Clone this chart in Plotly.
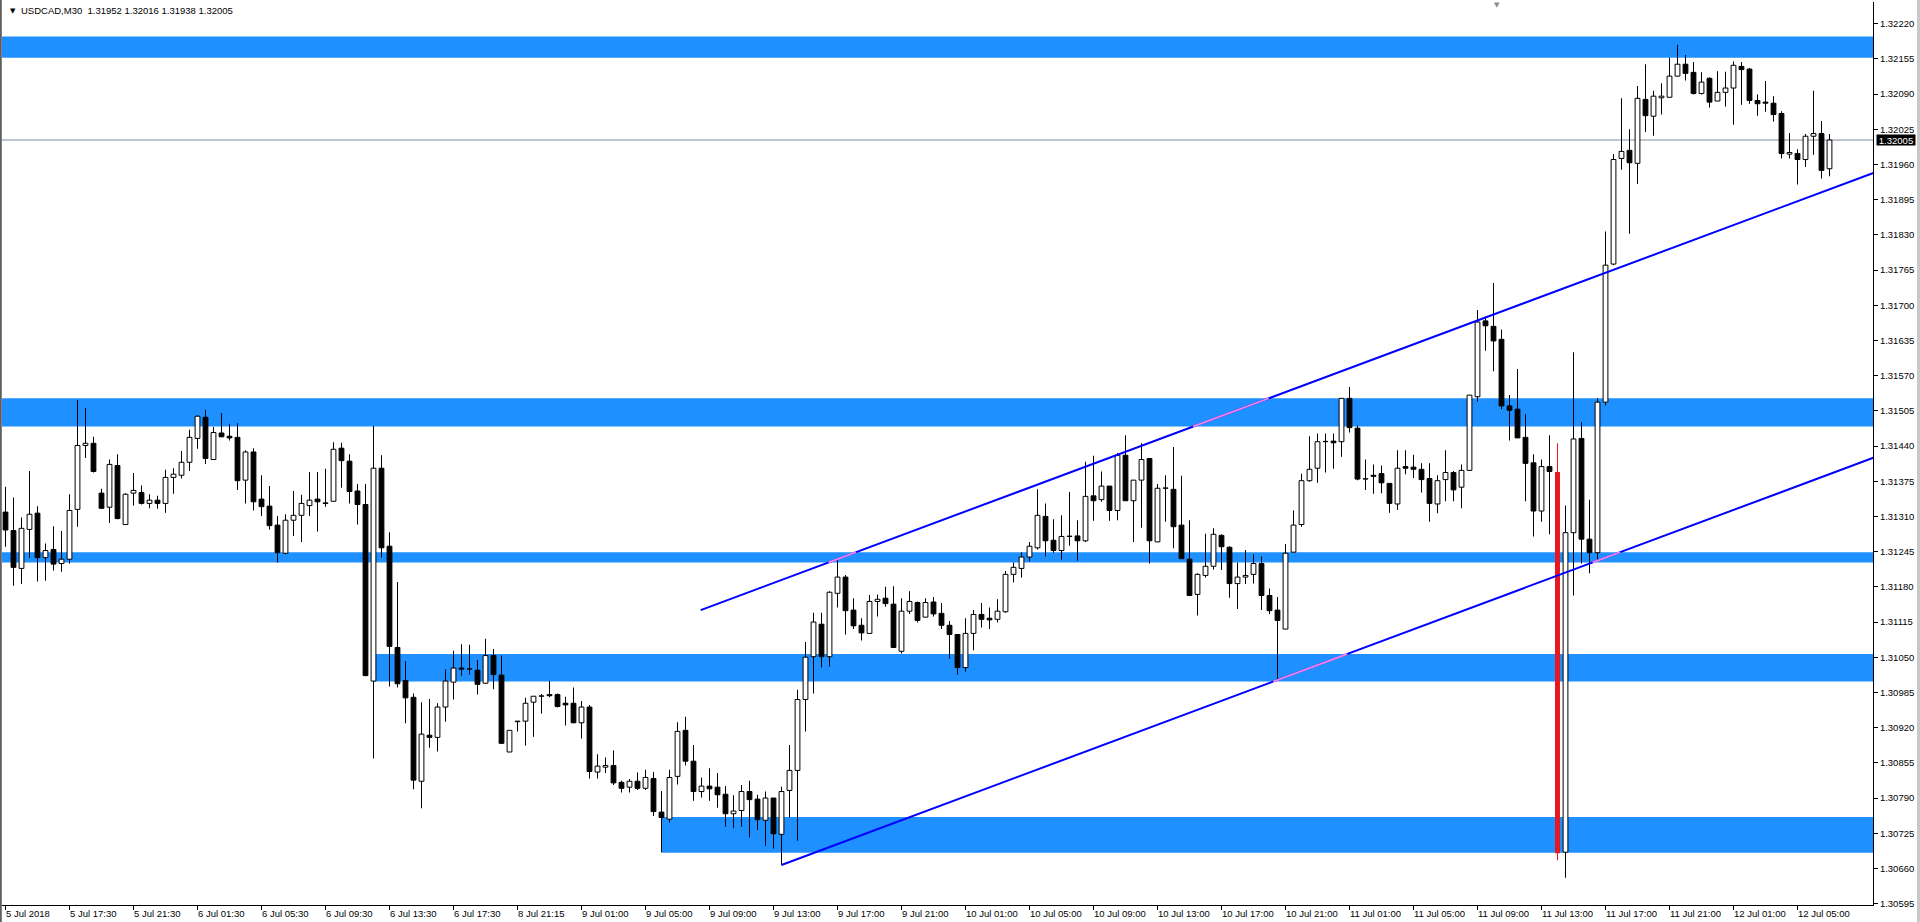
import plotly.graph_objects as go

# ---------------- data ----------------
open_ = [1.31318,1.31284,1.31214,1.31286,1.31316,1.31234,1.31249,1.31223,1.31231,1.31323,
1.31441,1.31445,1.31353,1.31327,1.31404,1.31295,1.31353,1.31354,1.31334,1.31340,
1.31334,1.31382,1.31386,1.31410,1.31454,1.31493,1.31415,1.31464,1.31458,1.31456,
1.31377,1.31429,1.31342,1.31329,1.31294,1.31242,1.31303,1.31312,1.31330,1.31342,
1.31335,1.31338,1.31436,1.31412,1.31357,1.31332,1.31006,1.31399,1.31255,1.31068,
1.31007,1.30976,1.30821,1.30906,1.30902,1.30958,1.31004,1.31030,1.31028,1.31026,
1.31002,1.31053,1.31017,1.30875,1.30931,1.30932,1.30967,1.30978,1.30981,1.30981,
1.30965,1.30965,1.30929,1.30958,1.30838,1.30847,1.30850,1.30819,1.30810,1.30821,
1.30808,1.30826,1.30764,1.30751,1.30830,1.30915,1.30858,1.30802,1.30812,1.30810,
1.30797,1.30761,1.30767,1.30802,1.30788,1.30749,1.30790,1.30723,1.30804,1.30841,
1.30972,1.31051,1.31111,1.31051,1.31168,1.31198,1.31137,1.31109,1.31094,1.31153,
1.31159,1.31148,1.31061,1.31135,1.31151,1.31124,1.31152,1.31131,1.31109,1.31092,
1.31031,1.31094,1.31129,1.31122,1.31120,1.31134,1.31203,1.31214,1.31235,1.31252,
1.31310,1.31266,1.31247,1.31273,1.31274,1.31265,1.31348,1.31341,1.31366,1.31321,
1.31423,1.31339,1.31377,1.31417,1.31263,1.31362,1.31360,1.31294,1.31231,1.31166,
1.31201,1.31218,1.31275,1.31253,1.31186,1.31198,1.31203,1.31223,1.31164,1.31137,
1.31102,1.31244,1.31295,1.31376,1.31399,1.31448,1.31449,1.31448,1.31528,1.31473,
1.31379,1.31386,1.31389,1.31371,1.31333,1.31402,1.31401,1.31397,1.31380,1.31333,
1.31378,1.31391,1.31364,1.31395,1.31531,1.31671,1.31661,1.31637,1.31514,1.31508,
1.31456,1.31409,1.31320,1.31402,1.31392,1.30690,1.31280,1.31454,1.31268,1.31243,
1.31521,1.31776,1.31971,1.31986,1.31962,1.32080,1.32049,1.32083,1.32084,1.32123,
1.32145,1.32130,1.32091,1.32119,1.32077,1.32093,1.32101,1.32141,1.32136,1.32078,
1.32075,1.32073,1.32054,1.31979,1.31980,1.31969,1.32012,1.32017,1.31952]

high = [1.31365,1.31345,1.31308,1.31394,1.31329,1.31260,1.31292,1.31283,1.31351,1.31525,
1.31510,1.31457,1.31361,1.31415,1.31425,1.31353,1.31390,1.31367,1.31351,1.31348,
1.31396,1.31399,1.31431,1.31470,1.31497,1.31507,1.31475,1.31501,1.31481,1.31482,
1.31432,1.31436,1.31386,1.31366,1.31311,1.31314,1.31357,1.31350,1.31392,1.31392,
1.31398,1.31447,1.31446,1.31425,1.31370,1.31370,1.31477,1.31423,1.31281,1.31189,
1.31043,1.30983,1.30967,1.30973,1.30965,1.31028,1.31062,1.31074,1.31073,1.31045,
1.31084,1.31065,1.31053,1.30915,1.30932,1.30975,1.30978,1.30982,1.31006,1.30983,
1.30977,1.30994,1.30969,1.30962,1.30871,1.30865,1.30878,1.30822,1.30825,1.30837,
1.30842,1.30838,1.30803,1.30842,1.30930,1.30940,1.30888,1.30828,1.30845,1.30836,
1.30812,1.30795,1.30814,1.30822,1.30796,1.30802,1.30790,1.30811,1.30888,1.30990,
1.31078,1.31132,1.31132,1.31172,1.31230,1.31202,1.31159,1.31122,1.31165,1.31166,
1.31180,1.31181,1.31159,1.31172,1.31153,1.31159,1.31161,1.31150,1.31117,1.31092,
1.31122,1.31137,1.31150,1.31142,1.31157,1.31209,1.31225,1.31244,1.31263,1.31360,
1.31334,1.31305,1.31312,1.31355,1.31303,1.31411,1.31422,1.31393,1.31366,1.31427,
1.31460,1.31377,1.31445,1.31417,1.31370,1.31386,1.31438,1.31385,1.31303,1.31205,
1.31278,1.31288,1.31277,1.31255,1.31225,1.31248,1.31240,1.31236,1.31177,1.31161,
1.31259,1.31321,1.31389,1.31458,1.31463,1.31463,1.31463,1.31528,1.31549,1.31478,
1.31415,1.31406,1.31404,1.31371,1.31432,1.31432,1.31424,1.31408,1.31408,1.31386,
1.31432,1.31394,1.31406,1.31534,1.31691,1.31679,1.31741,1.31655,1.31534,1.31582,
1.31499,1.31425,1.31415,1.31460,1.31445,1.31330,1.31613,1.31484,1.31341,1.31528,
1.31836,1.31979,1.32082,1.32025,1.32105,1.32145,1.32096,1.32110,1.32157,1.32181,
1.32162,1.32149,1.32130,1.32121,1.32132,1.32131,1.32150,1.32149,1.32138,1.32089,
1.32114,1.32086,1.32058,1.32018,1.31988,1.32016,1.32096,1.32040,1.32016]

low = [1.31254,1.31182,1.31185,1.31233,1.31190,1.31191,1.31210,1.31208,1.31223,1.31291,
1.31418,1.31391,1.31324,1.31298,1.31305,1.31295,1.31330,1.31332,1.31325,1.31324,
1.31317,1.31352,1.31380,1.31394,1.31435,1.31407,1.31415,1.31457,1.31450,1.31359,
1.31334,1.31321,1.31311,1.31286,1.31225,1.31240,1.31274,1.31263,1.31311,1.31282,
1.31328,1.31337,1.31363,1.31334,1.31295,1.31016,1.30863,1.31234,1.30996,1.30994,
1.30928,1.30806,1.30771,1.30883,1.30876,1.30931,1.30972,1.31016,1.31018,1.30981,
1.31002,1.30991,1.30891,1.30875,1.30913,1.30887,1.30903,1.30946,1.30976,1.30957,
1.30924,1.30928,1.30900,1.30826,1.30826,1.30836,1.30814,1.30800,1.30800,1.30805,
1.30805,1.30757,1.30690,1.30745,1.30815,1.30850,1.30785,1.30791,1.30785,1.30772,
1.30737,1.30734,1.30737,1.30717,1.30731,1.30702,1.30697,1.30666,1.30754,1.30711,
1.30913,1.30983,1.31031,1.31033,1.31142,1.31092,1.31102,1.31081,1.31094,1.31125,
1.31143,1.31068,1.31057,1.31130,1.31114,1.31124,1.31125,1.31102,1.31047,1.31018,
1.31023,1.31063,1.31105,1.31102,1.31114,1.31132,1.31188,1.31197,1.31227,1.31249,
1.31236,1.31243,1.31230,1.31256,1.31228,1.31263,1.31302,1.31337,1.31302,1.31303,
1.31339,1.31263,1.31289,1.31223,1.31263,1.31300,1.31251,1.31232,1.31164,1.31127,
1.31197,1.31212,1.31211,1.31160,1.31139,1.31185,1.31186,1.31137,1.31130,1.31009,
1.31102,1.31244,1.31291,1.31374,1.31372,1.31391,1.31398,1.31420,1.31465,1.31377,
1.31359,1.31352,1.31353,1.31317,1.31322,1.31388,1.31381,1.31354,1.31300,1.31316,
1.31338,1.31338,1.31325,1.31395,1.31522,1.31616,1.31578,1.31508,1.31450,1.31455,
1.31338,1.31273,1.31300,1.31277,1.30675,1.30643,1.31164,1.31223,1.31205,1.31230,
1.31515,1.31774,1.31950,1.31832,1.31924,1.32020,1.32013,1.32052,1.32084,1.32123,
1.32115,1.32089,1.32089,1.32065,1.32077,1.32067,1.32033,1.32070,1.32072,1.32050,
1.32057,1.32039,1.31971,1.31971,1.31923,1.31955,1.31978,1.31934,1.31938]

close = [1.31285,1.31216,1.31288,1.31314,1.31234,1.31247,1.31222,1.31231,1.31321,1.31441,
1.31445,1.31393,1.31325,1.31406,1.31306,1.31351,1.31358,1.31334,1.31340,1.31334,
1.31382,1.31388,1.31410,1.31456,1.31495,1.31417,1.31465,1.31457,1.31455,1.31376,
1.31429,1.31337,1.31328,1.31293,1.31243,1.31303,1.31312,1.31334,1.31340,1.31337,
1.31334,1.31434,1.31413,1.31356,1.31332,1.31016,1.31399,1.31252,1.31070,1.31001,
1.30975,1.30823,1.30908,1.30902,1.30958,1.31006,1.31030,1.31028,1.31028,1.31000,
1.31053,1.31018,1.30891,1.30915,1.30932,1.30965,1.30978,1.30978,1.30979,1.30959,
1.30962,1.30929,1.30958,1.30839,1.30849,1.30850,1.30818,1.30808,1.30821,1.30808,
1.30828,1.30765,1.30754,1.30828,1.30913,1.30858,1.30802,1.30812,1.30807,1.30796,
1.30761,1.30766,1.30802,1.30787,1.30750,1.30790,1.30724,1.30802,1.30841,1.30972,
1.31050,1.31115,1.31051,1.31170,1.31198,1.31136,1.31108,1.31095,1.31153,1.31157,
1.31149,1.31068,1.31135,1.31153,1.31118,1.31151,1.31130,1.31109,1.31092,1.31031,
1.31094,1.31129,1.31120,1.31119,1.31135,1.31203,1.31216,1.31235,1.31255,1.31312,
1.31265,1.31247,1.31273,1.31273,1.31265,1.31347,1.31339,1.31366,1.31321,1.31423,
1.31339,1.31377,1.31415,1.31265,1.31362,1.31362,1.31291,1.31232,1.31164,1.31203,
1.31218,1.31277,1.31254,1.31186,1.31198,1.31201,1.31223,1.31164,1.31136,1.31118,
1.31242,1.31294,1.31376,1.31397,1.31448,1.31448,1.31446,1.31528,1.31474,1.31379,
1.31379,1.31384,1.31372,1.31334,1.31399,1.31399,1.31397,1.31378,1.31334,1.31376,
1.31391,1.31359,1.31395,1.31534,1.31669,1.31662,1.31634,1.31514,1.31506,1.31455,
1.31408,1.31320,1.31402,1.31393,1.30688,1.31280,1.31453,1.31268,1.31243,1.31521,
1.31774,1.31969,1.31984,1.31963,1.32082,1.32050,1.32086,1.32086,1.32123,1.32145,
1.32128,1.32091,1.32112,1.32075,1.32093,1.32101,1.32143,1.32135,1.32078,1.32072,
1.32073,1.32052,1.31980,1.31982,1.31969,1.32012,1.32017,1.31949,1.32005]

time_labels = ["5 Jul 2018", "5 Jul 17:30", "5 Jul 21:30", "6 Jul 01:30", "6 Jul 05:30",
               "6 Jul 09:30", "6 Jul 13:30", "6 Jul 17:30", "8 Jul 21:15", "9 Jul 01:00",
               "9 Jul 05:00", "9 Jul 09:00", "9 Jul 13:00", "9 Jul 17:00", "9 Jul 21:00",
               "10 Jul 01:00", "10 Jul 05:00", "10 Jul 09:00", "10 Jul 13:00", "10 Jul 17:00",
               "10 Jul 21:00", "11 Jul 01:00", "11 Jul 05:00", "11 Jul 09:00", "11 Jul 13:00",
               "11 Jul 17:00", "11 Jul 21:00", "12 Jul 01:00", "12 Jul 05:00"]
bars_per_label = 8

price_ticks = [1.30595, 1.30660, 1.30725, 1.30790, 1.30855, 1.30920, 1.30985, 1.31050,
               1.31115, 1.31180, 1.31245, 1.31310, 1.31375, 1.31440, 1.31505, 1.31570,
               1.31635, 1.31700, 1.31765, 1.31830, 1.31895, 1.31960, 1.32025, 1.32090,
               1.32155, 1.32220]

# support / resistance zones (price bottom, price top, first bar or None = whole chart)
zone_bottom = [1.32157, 1.31476, 1.31225, 1.31005, 1.30689]
zone_top    = [1.32196, 1.31528, 1.31244, 1.31056, 1.30755]
zone_start  = [None, None, None, 46, 82]
zone_xor    = [True, True, True, True, False]   # line drawn pink inside these

# channel lines: two anchors (bar, price) each, extended to the right edge
upper_anchor = [(86.9, 1.31137), (199.3, 1.31756)]
lower_anchor = [(97.0, 1.306664), (199.3, 1.31230)]

highlight_bar = 194           # bar drawn in red
current_price = 1.32005
symbol_text = "USDCAD,M30\u00a0\u00a01.31952 1.32016 1.31938 1.32005"
shift_marker_bar = 186.4

# ---------------- figure ----------------
n = len(open_)
X_MIN, X_MAX = -0.4375, 233.4375
Y_MIN, Y_MAX = 1.3059249, 1.3225988
FONT = "Liberation Sans"
EPS = 0.000006

fig = go.Figure()

idx = [i for i in range(n) if i != highlight_bar]
bull = [i for i in idx if close[i] >= open_[i]]
bear = [i for i in idx if close[i] < open_[i]]

# wicks
fig.add_trace(go.Bar(x=idx, base=[low[i] for i in idx],
                     y=[high[i] - low[i] for i in idx], width=0.125,
                     marker=dict(color="black", line=dict(width=0)), hoverinfo="skip"))
# bodies
for sel, fillc in ((bull, "white"), (bear, "black")):
    fig.add_trace(go.Bar(x=sel, base=[min(open_[i], close[i]) for i in sel],
                         y=[max(abs(close[i] - open_[i]), EPS) for i in sel], width=0.6,
                         marker=dict(color=fillc, line=dict(color="black", width=1)),
                         hoverinfo="skip"))
# highlighted red candle
h = highlight_bar
fig.add_trace(go.Bar(x=[h], base=[low[h]], y=[high[h] - low[h]], width=0.125,
                     marker=dict(color="#E8161F", line=dict(width=0)), hoverinfo="skip"))
fig.add_trace(go.Bar(x=[h], base=[min(open_[h], close[h])], y=[abs(close[h] - open_[h])],
                     width=0.62, marker=dict(color="#E8161F", line=dict(width=0)),
                     hoverinfo="skip"))

# zones
shapes = []
for b, t, s in zip(zone_bottom, zone_top, zone_start):
    shapes.append(dict(type="rect", xref="x", yref="y",
                       x0=(X_MIN if s is None else s), x1=X_MAX + 5, y0=b, y1=t,
                       fillcolor="#1E90FF", line=dict(width=0), layer="below"))
# current price line
shapes.append(dict(type="line", xref="paper", yref="y", x0=0, x1=1,
                   y0=current_price, y1=current_price,
                   line=dict(color="#7F8C99", width=1), layer="below"))
# window borders
shapes.append(dict(type="line", xref="paper", yref="paper", x0=-1.2/1871, x1=-1.2/1871,
                   y0=-0.03, y1=1.01, line=dict(color="#606060", width=2)))
shapes.append(dict(type="line", xref="paper", yref="paper", x0=1 + 45.5/1871, x1=1 + 45.5/1871,
                   y0=-0.03, y1=1.01, line=dict(color="#C8C8C8", width=3)))


def channel(anchors):
    (x1, p1), (x2, p2) = anchors
    slope = (p2 - p1) / (x2 - x1)
    return x1, p1, slope


for anchors in (upper_anchor, lower_anchor):
    x0, p0, slope = channel(anchors)
    xe = X_MAX + 1
    fig.add_trace(go.Scatter(x=[x0, xe], y=[p0, p0 + slope * (xe - x0)], mode="lines",
                             line=dict(color="#0000FF", width=2), hoverinfo="skip"))
    for b, t, s, xo in zip(zone_bottom, zone_top, zone_start, zone_xor):
        if not xo:
            continue
        xa = x0 + (b - p0) / slope
        xb = x0 + (t - p0) / slope
        lo_x = max(xa, x0, X_MIN if s is None else s)
        hi_x = min(xb, xe)
        if hi_x > lo_x:
            fig.add_trace(go.Scatter(x=[lo_x, hi_x],
                                     y=[p0 + slope * (lo_x - x0), p0 + slope * (hi_x - x0)],
                                     mode="lines", line=dict(color="#EE82EE", width=2),
                                     hoverinfo="skip"))

annotations = []
# bottom time labels
for k, lab in enumerate(time_labels):
    annotations.append(dict(x=k * bars_per_label, xref="x", y=-8.5/903, yref="paper",
                            text=lab, showarrow=False, xanchor="left", yanchor="middle",
                            xshift=-2, font=dict(family=FONT, size=9.5, color="black")))
# current price box
annotations.append(dict(x=1 + 3.5/1871, xref="paper", y=current_price, yref="y",
                        text="1.32005", showarrow=False, xanchor="left", yanchor="middle",
                        bgcolor="black", width=38, height=10, borderpad=0,
                        font=dict(family=FONT, size=9.5, color="white")))
# symbol header
annotations.append(dict(x=6/1871, xref="paper", y=1 - 9/903, yref="paper", text="\u25BC",
                        showarrow=False, xanchor="left", yanchor="middle",
                        font=dict(family="DejaVu Sans", size=7, color="black")))
annotations.append(dict(x=17/1871, xref="paper", y=1 - 9/903, yref="paper", text=symbol_text,
                        showarrow=False, xanchor="left", yanchor="middle",
                        font=dict(family=FONT, size=9.5, color="black")))
# chart shift marker
annotations.append(dict(x=shift_marker_bar, xref="x", y=1 + 2/903, yref="paper", text="\u25BC",
                        showarrow=False, xanchor="center", yanchor="top", borderpad=0,
                        font=dict(family="DejaVu Sans", size=7, color="#8A8A8A")))

fig.update_layout(
    width=1920, height=922, autosize=False,
    margin=dict(l=2, r=47, t=2, b=17, pad=0),
    paper_bgcolor="white", plot_bgcolor="white",
    barmode="overlay", showlegend=False,
    shapes=shapes, annotations=annotations,
    xaxis=dict(range=[X_MIN, X_MAX], tickvals=[k * bars_per_label for k in range(len(time_labels))],
               showticklabels=False, ticks="outside", ticklen=4, tickcolor="black",
               showline=True, linecolor="black", linewidth=1, showgrid=False, zeroline=False,
               fixedrange=True),
    yaxis=dict(range=[Y_MIN, Y_MAX], side="right", tickvals=price_ticks,
               ticktext=["%.5f" % v for v in price_ticks], ticks="outside", ticklen=4,
               tickcolor="black", showline=True, linecolor="black", linewidth=1,
               showgrid=False, zeroline=False, fixedrange=True,
               tickfont=dict(family=FONT, size=9.5, color="black")),
)

fig.write_html("out.html", config={"displayModeBar": False},
               post_script="document.body.style.margin='0';document.body.style.padding='0';"
                           "document.body.style.overflow='hidden';")
